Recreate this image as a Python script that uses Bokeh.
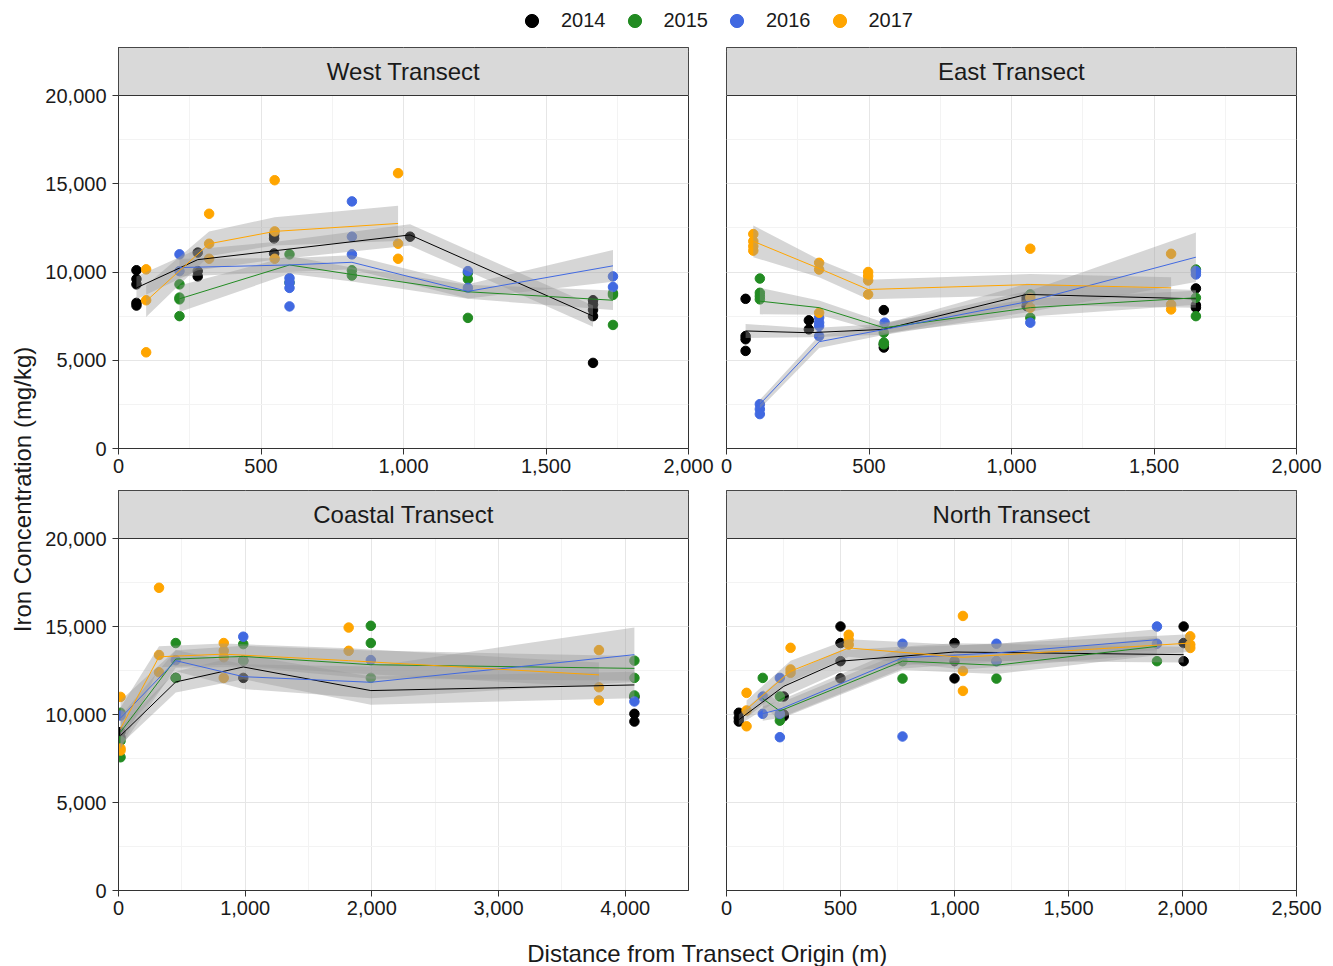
import math
from bokeh.plotting import figure
from bokeh.layouts import row, column
from bokeh.models import (Range1d, SingleIntervalTicker, NumeralTickFormatter,
                          Legend, LegendItem, Grid, BoxAnnotation, Label)
from bokeh.core.properties import value
from bokeh.embed import file_html
from bokeh.resources import INLINE

FONT = "Liberation Sans"
TXT = "#1A1A1A"
YEARS = ["2014", "2015", "2016", "2017"]
YEAR_COLORS = ["#000000", "#228B22", "#4169E1", "#FFA500"]

PANEL_TITLES = ["West Transect", "East Transect", "Coastal Transect", "North Transect"]
X_MAX = [2000, 2000, 4500, 2500]
X_STEP = [500, 500, 1000, 500]
Y_MAX = 20000
Y_STEP = 5000

# ---------------- West Transect ----------------
west_2014_dist = [63, 278, 546, 1023, 1665]
west_2014_vals = [[10100, 9600, 9300, 8250, 8100], [11100, 10050, 9750], [12100, 11900, 11050], [12000], [8400, 8150, 7850, 7500, 4850]]
west_2014_mean = [9100, 10700, 11200, 12100, 7500]
west_2014_se = [650, 600, 500, 600, 600]

west_2015_dist = [214, 600, 819, 1226, 1735]
west_2015_vals = [[9300, 8550, 8450, 7500], [11000, 9400], [10100, 9800], [9600, 9950, 7400], [8800, 8700, 7000]]
west_2015_mean = [8480, 10400, 9860, 8880, 8400]
west_2015_se = [750, 500, 400, 400, 550]

west_2016_dist = [214, 600, 819, 1226, 1735]
west_2016_vals = [[11000, 10050], [9650, 9400, 9100, 8050], [14000, 12000, 11000], [10050, 9100], [9750, 9150]]
west_2016_mean = [10250, 10400, 10550, 8900, 10350]
west_2016_se = [500, 400, 400, 400, 900]

west_2017_dist = [97, 318, 548, 981]
west_2017_vals = [[10150, 8400, 5450], [13300, 11600, 10750], [15200, 12300, 10750], [15600, 11600, 10750]]
west_2017_mean = [8350, 11600, 12300, 12750]
west_2017_se = [900, 700, 800, 1000]

# ---------------- East Transect ----------------
east_2014_dist = [67, 289, 552, 1053, 1647]
east_2014_vals = [[8480, 6370, 6190, 5530], [7260, 6750], [7840, 5900, 5720], [8540, 8350, 8070], [9070, 8120, 7980]]
east_2014_mean = [6660, 6560, 6750, 8730, 8480]
east_2014_se = [400, 250, 300, 600, 500]

east_2015_dist = [117, 325, 552, 1066, 1647]
east_2015_vals = [[9630, 8820, 8630, 8450], [], [6560, 6000, 5900], [8730, 7410], [10140, 8540, 7500]]
east_2015_mean = [8350, 7980, 6840, 7980, 8540]
east_2015_se = [750, 400, 300, 500, 400]

east_2016_dist = [117, 325, 555, 1066, 1647]
east_2016_vals = [[2510, 2230, 1950], [7410, 7130, 6940, 6370], [7130], [7130], [10050, 9860]]
east_2016_mean = [2510, 6050, 6750, 8350, 10840]
east_2016_se = [250, 350, 300, 600, 1400]

east_2017_dist = [94, 325, 497, 1066, 1560]
east_2017_vals = [[12150, 11740, 11460, 11210], [10520, 10140, 7690], [10000, 9770, 9520, 8730], [11320, 8540, 7980], [11030, 8160, 7880]]
east_2017_mean = [11740, 10200, 9010, 9290, 9100]
east_2017_se = [900, 500, 550, 600, 600]

# ---------------- Coastal Transect ----------------
coast_2014_dist = [16, 452, 985, 1992, 4073]
coast_2014_vals = [[9000, 8700], [12080], [12080, 13060], [], [11000, 10040, 9600]]
coast_2014_mean = [8800, 11850, 12700, 11360, 11680]
coast_2014_se = [500, 600, 700, 800, 750]

coast_2015_dist = [16, 452, 985, 1992, 4073]
coast_2015_vals = [[10100, 8500, 7570], [14060, 12080], [14000, 13060], [15040, 14060, 12080], [13060, 12080, 11080]]
coast_2015_mean = [9000, 13150, 13300, 12830, 12620]
coast_2015_se = [900, 500, 600, 800, 700]

coast_2016_dist = [16, 452, 985, 1992, 4073]
coast_2016_vals = [[9940], [13090], [14420], [13090], [10740]]
coast_2016_mean = [9800, 13060, 12150, 11830, 13400]
coast_2016_se = [1000, 600, 700, 900, 1550]

coast_2017_dist = [16, 320, 831, 1817, 3793]
coast_2017_vals = [[11000, 8070, 7950], [17200, 13380, 12400], [14060, 13620, 13250, 12080], [14940, 13620], [13660, 11550, 10800]]
coast_2017_mean = [9200, 13280, 13430, 13060, 12250]
coast_2017_se = [1200, 600, 600, 700, 700]

# ---------------- North Transect ----------------
north_2014_dist = [54, 251, 500, 1000, 2005]
north_2014_vals = [[10100, 9800, 9600], [11020, 10000, 9900], [15000, 14060, 13030, 12050], [14060, 13030, 12050], [15000, 14060, 13030]]
north_2014_mean = [9700, 11600, 13030, 13550, 13400]
north_2014_se = [300, 600, 600, 500, 450]

north_2015_dist = [159, 234, 772, 1184, 1888]
north_2015_vals = [[12080], [11020, 9930, 9650], [13030, 12040], [13030, 12040], [13030]]
north_2015_mean = [10900, 10200, 13030, 12800, 13870]
north_2015_se = [500, 450, 500, 500, 500]

north_2016_dist = [159, 234, 772, 1184, 1888]
north_2016_vals = [[11020, 10040], [12080, 10040, 8710], [14020, 8750], [14020, 13030], [15000, 14020]]
north_2016_mean = [10050, 10300, 13220, 13500, 14250]
north_2016_se = [400, 500, 600, 500, 600]

north_2017_dist = [88, 281, 536, 1037, 2034]
north_2017_vals = [[11230, 10230, 9330], [13790, 12560, 12370], [14530, 14250, 13970], [15600, 12470, 11340], [14440, 13970, 13780]]
north_2017_mean = [10300, 12460, 13780, 13250, 14060]
north_2017_se = [500, 600, 500, 700, 500]

PANEL_SERIES = [
    [(west_2014_dist, west_2014_vals, west_2014_mean, west_2014_se),
     (west_2015_dist, west_2015_vals, west_2015_mean, west_2015_se),
     (west_2016_dist, west_2016_vals, west_2016_mean, west_2016_se),
     (west_2017_dist, west_2017_vals, west_2017_mean, west_2017_se)],
    [(east_2014_dist, east_2014_vals, east_2014_mean, east_2014_se),
     (east_2015_dist, east_2015_vals, east_2015_mean, east_2015_se),
     (east_2016_dist, east_2016_vals, east_2016_mean, east_2016_se),
     (east_2017_dist, east_2017_vals, east_2017_mean, east_2017_se)],
    [(coast_2014_dist, coast_2014_vals, coast_2014_mean, coast_2014_se),
     (coast_2015_dist, coast_2015_vals, coast_2015_mean, coast_2015_se),
     (coast_2016_dist, coast_2016_vals, coast_2016_mean, coast_2016_se),
     (coast_2017_dist, coast_2017_vals, coast_2017_mean, coast_2017_se)],
    [(north_2014_dist, north_2014_vals, north_2014_mean, north_2014_se),
     (north_2015_dist, north_2015_vals, north_2015_mean, north_2015_se),
     (north_2016_dist, north_2016_vals, north_2016_mean, north_2016_se),
     (north_2017_dist, north_2017_vals, north_2017_mean, north_2017_se)],
]

# ---------------- layout geometry (pixels) ----------------
LEFT_W, RIGHT_W = 675, 618
LEFT_MB = (78, 27)
RIGHT_MB = (11, 37)
STRIP_H = 48
PLOT_H_TOP, BOTTOM_TOP = 353, 41
PLOT_H_BOT, BOTTOM_BOT = 352, 43


def make_panel(idx, is_left, is_top):
    w = LEFT_W if is_left else RIGHT_W
    mbl, mbr = LEFT_MB if is_left else RIGHT_MB
    ph, bh = (PLOT_H_TOP, BOTTOM_TOP) if is_top else (PLOT_H_BOT, BOTTOM_BOT)
    frame_h = STRIP_H + ph
    y_top = Y_MAX * frame_h / ph  # extra room on top of the data area for the strip
    p = figure(width=w, height=1 + frame_h + bh, toolbar_location=None, output_backend="svg",
               x_range=Range1d(0, X_MAX[idx]), y_range=Range1d(0, y_top),
               x_axis_location="below", y_axis_location=("left" if is_left else None),
               min_border_left=mbl, min_border_right=mbr, min_border_top=1, min_border_bottom=bh,
               background_fill_color="white", border_fill_color="white",
               outline_line_color="#333333", outline_line_width=1)
    xt = SingleIntervalTicker(interval=X_STEP[idx], num_minor_ticks=2)
    yt = SingleIntervalTicker(interval=Y_STEP, num_minor_ticks=2)
    p.center = [r for r in p.center if not isinstance(r, Grid)]
    for dim, tk in ((0, xt), (1, yt)):
        p.add_layout(Grid(dimension=dim, ticker=tk, grid_line_color="#E6E6E6", grid_line_width=1,
                          minor_grid_line_color="#F3F3F3", minor_grid_line_width=1), "center")
    axes = [p.xaxis[0]] + ([p.yaxis[0]] if is_left else [])
    for ax, tk in zip(axes, [xt, yt]):
        ax.ticker = tk
        ax.formatter = NumeralTickFormatter(format="0,0")
        ax.major_label_text_font = FONT
        ax.major_label_text_font_size = "20px"
        ax.major_label_text_color = TXT
        ax.major_tick_out = 6
        ax.major_tick_in = 0
        ax.minor_tick_line_color = None
        ax.axis_line_color = "#333333"
        ax.major_tick_line_color = "#333333"
    p.xaxis.major_label_standoff = 4
    if is_left:
        p.yaxis.major_label_standoff = 6

    series = PANEL_SERIES[idx]
    for (dist, vals, mean, se), c in zip(series, YEAR_COLORS):
        xs = [d for d, vs in zip(dist, vals) for _ in vs]
        ys = [v for vs in vals for v in vs]
        p.scatter(xs, ys, size=9.5, color=c, line_color=c)
    for (dist, vals, mean, se), c in zip(series, YEAR_COLORS):
        lo = [m - s for m, s in zip(mean, se)]
        hi = [m + s for m, s in zip(mean, se)]
        p.varea(x=dist, y1=lo, y2=hi, fill_color="#999999", fill_alpha=0.4)
    for (dist, vals, mean, se), c in zip(series, YEAR_COLORS):
        p.line(dist, mean, line_color=c, line_width=1)

    # facet strip
    p.add_layout(BoxAnnotation(bottom=Y_MAX, fill_color="#D9D9D9", fill_alpha=1.0,
                               line_color="#333333", line_width=1, line_alpha=1.0))
    p.add_layout(Label(x=X_MAX[idx] / 2, y=(Y_MAX + y_top) / 2, text=PANEL_TITLES[idx],
                       text_align="center", text_baseline="middle",
                       text_font=FONT, text_font_size="24px", text_color=TXT))
    return p


# legend figure
lg = figure(width=1333, height=46, x_range=Range1d(0, 1), y_range=Range1d(0, 1),
            toolbar_location=None, output_backend="svg",
            x_axis_location=None, y_axis_location=None, min_border=0,
            outline_line_color=None, background_fill_color="white", border_fill_color="white")
lg.grid.visible = False
items = []
for yr, c in zip(YEARS, YEAR_COLORS):
    r = lg.scatter(x=[-5], y=[-5], size=13, color=c)
    items.append(LegendItem(label=yr, renderers=[r]))
leg = Legend(items=items, orientation="horizontal", location=(515, 9),
             glyph_width=33, glyph_height=33, label_standoff=13, spacing=12,
             padding=0, margin=0, border_line_color=None, background_fill_alpha=0,
             label_text_font=FONT, label_text_font_size="20px", label_text_color=TXT)
lg.add_layout(leg, "center")

# y-axis title
ylab = figure(width=40, height=887, x_range=Range1d(0, 40), y_range=Range1d(0, 887),
              toolbar_location=None, output_backend="svg",
              x_axis_location=None, y_axis_location=None, min_border=0,
              outline_line_color=None, background_fill_color="white", border_fill_color="white")
ylab.grid.visible = False
ylab.text(x=[22], y=[444], text=["Iron Concentration (mg/kg)"], angle=math.pi / 2,
          text_align="center", text_baseline="middle",
          text_font=value(FONT), text_font_size="24px", text_color=TXT)

# x-axis title
xlab = figure(width=1333, height=33, x_range=Range1d(0, 1333), y_range=Range1d(0, 33),
              toolbar_location=None, output_backend="svg",
              x_axis_location=None, y_axis_location=None, min_border=0,
              outline_line_color=None, background_fill_color="white", border_fill_color="white")
xlab.grid.visible = False
xlab.text(x=[707], y=[13], text=["Distance from Transect Origin (m)"],
          text_align="center", text_baseline="middle",
          text_font=value(FONT), text_font_size="24px", text_color=TXT)

grid_block = column(
    row(make_panel(0, True, True), make_panel(1, False, True)),
    row(make_panel(2, True, False), make_panel(3, False, False)),
)
layout = column(lg, row(ylab, grid_block), xlab)

open("out.html", "w").write(file_html(layout, INLINE))
